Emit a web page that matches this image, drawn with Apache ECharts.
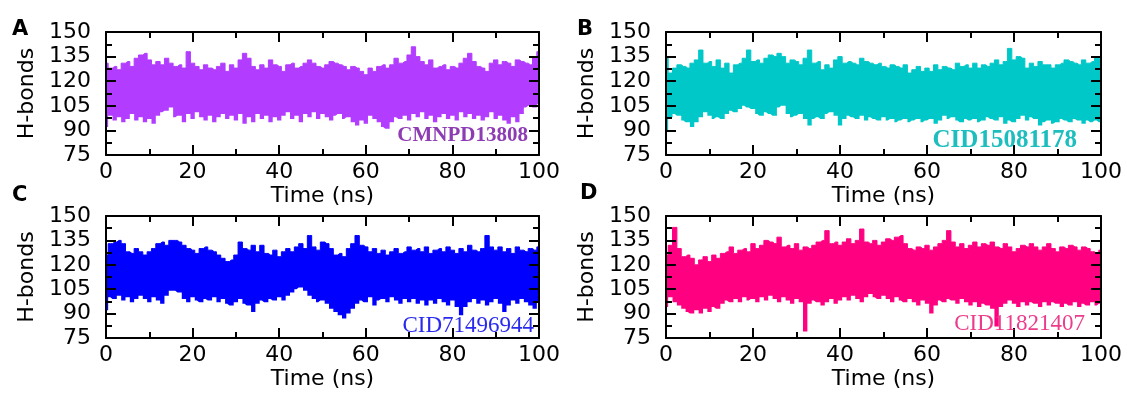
<!DOCTYPE html>
<html>
<head>
<meta charset="utf-8">
<script src="https://cdn.jsdelivr.net/npm/echarts@6/dist/echarts.min.js"></script>
<style>
html,body{margin:0;padding:0;background:#fff;}
#chart{width:1127px;height:394px;}
</style>
</head>
<body>
<div id="chart"></div>
<script>
// ---- data (1 ns resolution: upper / lower envelope of H-bond count) ----
const timeNs = [0,1,2,3,4,5,6,7,8,9,10,11,12,13,14,15,16,17,18,19,20,21,22,23,24,25,26,27,28,29,30,31,32,33,34,35,36,37,38,39,40,41,42,43,44,45,46,47,48,49,50,51,52,53,54,55,56,57,58,59,60,61,62,63,64,65,66,67,68,69,70,71,72,73,74,75,76,77,78,79,80,81,82,83,84,85,86,87,88,89,90,91,92,93,94,95,96,97,98,99,100];
const xTicks = [0, 20, 40, 60, 80, 100];
const yTicks = [75, 90, 105, 120, 135, 150];

const upperA = [131,128,129,127,131,132,129,134,136,137,133,130,132,130,134,131,129,130,128,138,131,129,127,130,128,127,129,131,126,130,128,133,137,134,129,127,130,128,133,130,129,126,130,131,128,129,131,133,131,129,128,130,132,131,130,129,127,129,128,126,124,128,126,129,130,128,130,134,131,132,136,141,135,132,130,133,128,129,130,127,129,128,131,134,137,132,129,128,126,131,133,130,132,131,129,133,132,131,130,135,138];
const lowerA = [92,99,96,98,95,97,100,96,98,95,97,94,99,101,102,104,98,99,95,100,97,101,98,96,99,95,98,100,97,99,96,100,94,98,95,100,97,99,95,98,96,99,101,97,99,95,100,98,101,97,100,98,96,99,100,97,98,95,93,96,94,99,97,95,92,91,95,98,97,99,96,100,98,101,97,99,95,98,100,97,99,96,101,98,100,97,99,96,98,101,97,99,96,94,98,95,100,104,105,104,106];

const upperB = [134,125,128,130,129,128,131,133,139,131,132,129,133,128,131,125,130,131,134,139,132,133,131,134,136,135,137,135,131,133,132,130,134,139,131,132,127,130,128,133,135,131,132,131,130,134,132,131,130,131,129,128,130,129,128,130,125,127,129,126,128,126,130,127,129,128,127,131,129,130,128,131,128,130,129,131,133,130,132,140,133,135,134,128,131,129,132,130,130,128,130,131,133,132,131,130,133,131,132,134,133];
const lowerB = [90,98,100,99,96,95,92,95,98,101,99,97,98,97,100,102,101,103,105,104,103,100,99,101,100,99,104,105,100,98,99,100,97,93,97,98,97,100,101,99,93,97,99,98,97,99,96,98,97,96,98,96,97,95,96,97,95,96,97,95,96,97,94,96,99,97,98,96,95,97,96,97,95,96,98,97,96,98,94,96,95,97,99,96,98,97,93,95,96,94,95,97,96,95,97,96,94,96,95,96,95];

const upperC = [126,133,134,135,133,128,127,130,128,126,128,130,133,134,132,135,135,134,132,130,129,127,130,131,129,128,126,124,122,123,126,134,130,129,132,128,132,127,126,129,125,128,130,128,131,133,130,138,131,129,134,133,130,126,127,125,130,133,138,132,131,128,130,127,129,126,128,130,127,128,131,129,130,128,131,127,129,130,128,131,129,127,130,128,132,129,128,130,138,131,129,131,128,130,127,131,129,128,130,129,131];
const lowerC = [92,100,99,101,98,100,97,99,101,99,97,100,98,96,101,104,104,103,99,97,100,98,97,99,98,100,97,99,96,95,97,99,96,95,91,96,98,97,99,98,100,98,101,103,105,106,104,101,99,97,98,96,93,91,89,87,90,93,96,98,97,100,95,98,99,97,100,98,96,99,97,99,96,98,95,98,96,99,97,95,98,94,89,94,97,99,96,98,95,97,99,96,91,95,98,96,99,97,95,93,97];

const upperD = [126,132,143,130,125,126,124,120,123,125,122,126,124,127,128,131,127,129,130,128,133,130,132,135,134,133,137,131,132,130,133,129,131,130,132,134,135,141,133,134,132,134,136,133,135,142,134,133,135,132,134,136,135,137,138,133,130,129,131,130,132,129,131,133,135,141,134,131,133,130,132,134,131,133,132,134,131,130,133,131,128,130,132,131,133,131,129,131,133,130,128,131,130,132,131,129,131,130,128,127,129];
const lowerD = [94,100,97,95,93,91,90,92,90,93,91,94,93,96,98,97,99,97,100,98,99,97,100,98,101,99,97,100,98,96,99,97,79,96,98,97,95,97,99,96,98,100,98,101,99,97,100,102,100,99,101,99,97,100,98,97,99,97,95,98,96,90,95,98,97,99,98,96,99,97,95,97,94,96,95,93,82,94,96,98,96,94,97,95,97,96,94,97,95,97,96,94,96,95,97,94,96,95,97,95,96];

const panelLetters = ['A', 'B', 'C', 'D'];
const compoundNames = ['CMNPD13808', 'CID15081178', 'CID71496944', 'CID11821407'];
const uppers = [upperA, upperB, upperC, upperD];
const lowers = [lowerA, lowerB, lowerC, lowerD];

// ---- styles / layout ----
const bandColors = ['#B23CFF', '#00C8C8', '#0000FF', '#FF0080'];
const labelColors = ['#8E3CB4', '#1EBEBE', '#2A2AEE', '#EC3C8C'];
const grids = [
  {left: 106, top: 32, width: 433, height: 123},
  {left: 666, top: 32, width: 435, height: 123},
  {left: 106, top: 216, width: 433, height: 122},
  {left: 666, top: 216, width: 435, height: 122}
];
const nameStyles = [
  {right: 528, y: 136, font: 'bold 21px "Liberation Serif"'},
  {right: 1077, y: 141, font: 'bold 25px "Liberation Serif"'},
  {right: 534, y: 326, font: '23px "Liberation Serif"'},
  {right: 1085, y: 324, font: '23px "Liberation Serif"'}
];
const letterPos = [[12, 30], [577, 30], [12, 196], [580, 194]];

const FONT = 'DejaVu Sans';
const lineBlack = {color: '#000', width: 2};

const xAxes = [], yAxes = [], series = [], graphics = [];
grids.forEach((g, i) => {
  const xBase = {
    gridIndex: i, type: 'value', min: xTicks[0], max: xTicks[xTicks.length - 1],
    interval: xTicks[1] - xTicks[0], z: 5,
    axisLine: {show: true, onZero: false, lineStyle: lineBlack},
    axisTick: {show: true, inside: true, length: 10, lineStyle: lineBlack},
    minorTick: {show: true, splitNumber: 2, length: 6, lineStyle: lineBlack},
    splitLine: {show: false}
  };
  // axis index 3i: visible bottom axis, 3i+1: mirrored top axis, 3i+2: hidden category axis carrying the samples
  xAxes.push(Object.assign({}, xBase, {
    position: 'bottom',
    axisLabel: {show: true, color: '#000', fontFamily: FONT, fontSize: 22, margin: 6},
    name: 'Time (ns)', nameLocation: 'middle', nameGap: 30,
    nameTextStyle: {color: '#000', fontFamily: FONT, fontSize: 22}
  }));
  xAxes.push(Object.assign({}, xBase, {position: 'top', axisLabel: {show: false}}));
  xAxes.push({
    gridIndex: i, type: 'category', data: timeNs, boundaryGap: false, show: false,
    position: 'bottom'
  });
  const yBase = {
    gridIndex: i, type: 'value', min: yTicks[0], max: yTicks[yTicks.length - 1],
    interval: yTicks[1] - yTicks[0], z: 5,
    axisLine: {show: true, onZero: false, lineStyle: lineBlack},
    axisTick: {show: true, inside: true, length: 10, lineStyle: lineBlack},
    minorTick: {show: true, splitNumber: 2, length: 6, lineStyle: lineBlack},
    splitLine: {show: false}
  };
  yAxes.push(Object.assign({}, yBase, {
    position: 'left',
    axisLabel: {show: true, color: '#000', fontFamily: FONT, fontSize: 22, margin: 15},
    name: 'H-bonds', nameLocation: 'middle', nameGap: 68,
    nameTextStyle: {color: '#000', fontFamily: FONT, fontSize: 22}
  }));
  yAxes.push(Object.assign({}, yBase, {position: 'right', axisLabel: {show: false}}));

  const up = uppers[i], lo = lowers[i];
  series.push({
    type: 'line', xAxisIndex: 3 * i + 2, yAxisIndex: 2 * i, stack: 'band' + i,
    step: 'middle', symbol: 'none', showSymbol: false, silent: true, z: 2,
    lineStyle: {opacity: 0},
    data: lo.slice()
  });
  series.push({
    type: 'line', xAxisIndex: 3 * i + 2, yAxisIndex: 2 * i, stack: 'band' + i,
    step: 'middle', symbol: 'none', showSymbol: false, silent: true, z: 2,
    lineStyle: {color: bandColors[i], width: 1},
    areaStyle: {color: bandColors[i], opacity: 1},
    data: up.map((v, k) => v - lo[k])
  });

  const ns = nameStyles[i];
  graphics.push({
    type: 'text', x: ns.right, y: ns.y, z: 10,
    style: {text: compoundNames[i], font: ns.font, fill: labelColors[i], align: 'right', verticalAlign: 'middle'}
  });
  graphics.push({
    type: 'text', x: letterPos[i][0], y: letterPos[i][1], z: 10,
    style: {text: panelLetters[i], font: 'bold 21px "DejaVu Sans"', fill: '#000', align: 'left', verticalAlign: 'middle'}
  });
});

const chart = echarts.init(document.getElementById('chart'), null, {renderer: 'canvas'});
chart.setOption({
  backgroundColor: '#fff',
  animation: false,
  grid: grids.map(g => Object.assign({containLabel: false}, g)),
  xAxis: xAxes,
  yAxis: yAxes,
  series: series,
  graphic: graphics
});
</script>
</body>
</html>
